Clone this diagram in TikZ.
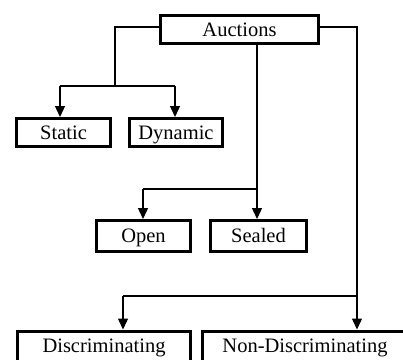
\documentclass[tikz,border=0pt]{standalone}
\usepackage{fontspec}
\setmainfont{Liberation Serif}
\usetikzlibrary{arrows.meta}
\begin{document}
\begin{tikzpicture}[x=1pt,y=-1pt,
  box/.style={draw,line width=3pt,inner sep=0pt,text height=15.5pt,text depth=2pt,font=\fontsize{20.5}{23}\selectfont},
  conn/.style={line width=1.3pt},
  arr/.style={conn,-{Triangle[width=10pt,length=11pt]}}]
\useasboundingbox (0,0) rectangle (403,359);
\node[box,minimum width=158pt,minimum height=28pt] (auc) at (239.5,29.5) {Auctions};
\node[box,minimum width=94pt,minimum height=28pt] (st) at (63.5,132.5) {Static};
\node[box,minimum width=93pt,minimum height=28pt] (dy) at (176,132.5) {Dynamic};
\node[box,minimum width=94pt,minimum height=31pt] (op) at (143.5,236) {Open};
\node[box,minimum width=96pt,minimum height=31pt] (se) at (258.5,236) {Sealed};
\node[box,minimum width=173pt,minimum height=30pt] (di) at (104,346) {Discriminating};
\node[box,minimum width=205pt,minimum height=30pt] (nd) at (305,346) {Non-Discriminating};
% left branch
\coordinate (l1) at (115,27);
\coordinate (l2) at (115,86);
\coordinate (ja) at (60,86);
\coordinate (jb) at (175,86);
\draw[conn] (auc.west |- l1) -- (l1) -- (l2);
\draw[conn] (ja) -- (jb);
\draw[arr] (ja) -- (ja |- st.north);
\draw[arr] (jb) -- (jb |- dy.north);
% middle branch
\coordinate (m0) at (257,45);
\coordinate (m1) at (257,189);
\coordinate (m2) at (143,189);
\draw[conn] (m0 |- auc.south) -- (m1) -- (m2);
\draw[arr] (m2) -- (m2 |- op.north);
\draw[arr] (m1) -- (m1 |- se.north);
% right branch
\coordinate (r0) at (358,27);
\coordinate (r1) at (357,27);
\coordinate (r2) at (357,296);
\coordinate (r3) at (123,296);
\draw[conn] (auc.east |- r0) -- (r0);
\draw[conn] (r1) -- (r2) -- (r3);
\draw[arr] (r3) -- (r3 |- di.north);
\draw[arr] (r2) -- (r2 |- nd.north);
\end{tikzpicture}
\end{document}
